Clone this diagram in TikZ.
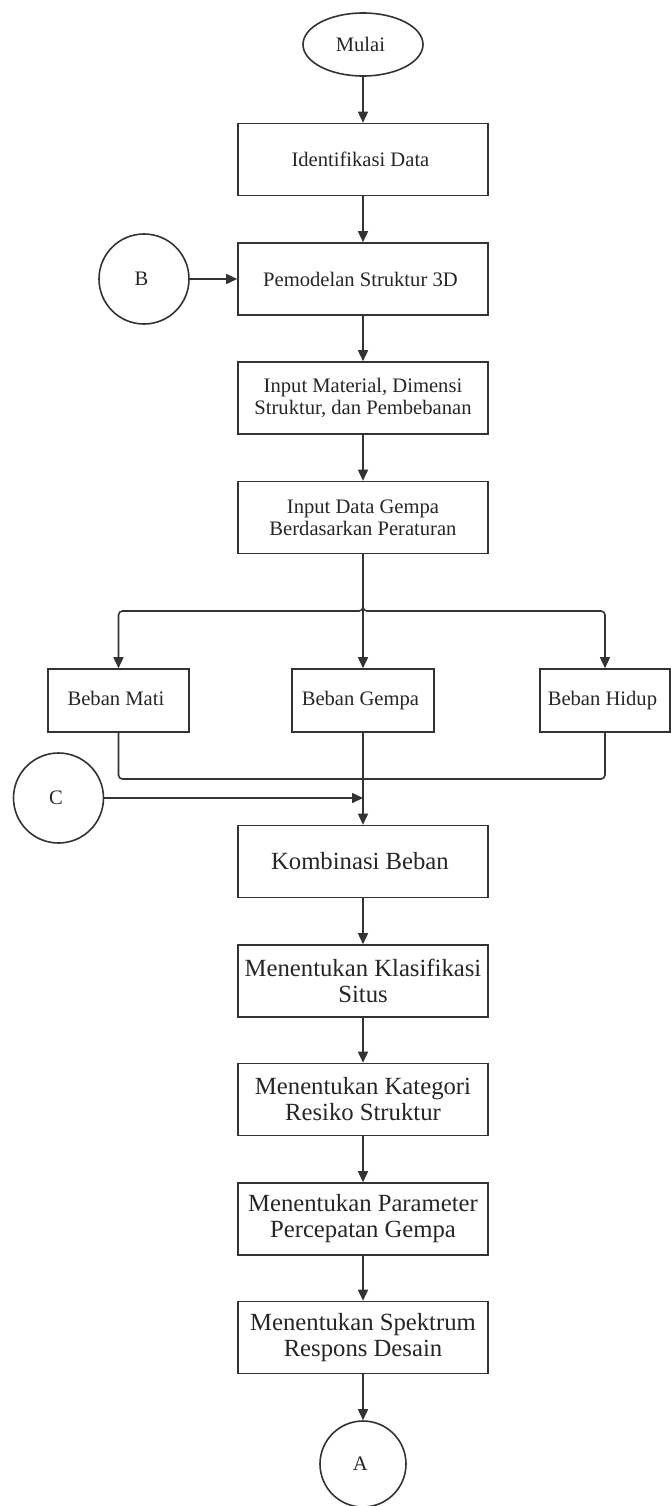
\documentclass[tikz,border=0pt]{standalone}
\usepackage{fontspec}
\setmainfont{Liberation Serif}
\usetikzlibrary{arrows.meta,positioning,shapes.geometric}
\definecolor{linegray}{HTML}{333333}

\begin{document}
\begin{tikzpicture}[x=1pt, y=1pt,
every node/.style={
    rectangle,
    draw=linegray,
    line width=1.6pt,
    text=black!85,
    align=center,
    inner sep=2pt
},
stepbox/.style={minimum width=250pt, minimum height=72pt, font=\fontsize{20.6}{22}\selectfont},
bigbox/.style={minimum width=250pt, minimum height=72pt, font=\fontsize{24.7}{26}\selectfont},
loadbox/.style={minimum height=63pt, text height=14pt, text depth=4.5pt, font=\fontsize{20.6}{22}\selectfont},
connector/.style={circle, minimum size=90pt, font=\fontsize{20.6}{22}\selectfont},
flow/.style={linegray, line width=1.6pt, -{Triangle[length=11pt, width=10pt]}},
link/.style={linegray, line width=1.6pt, rounded corners=4pt}
]
    \useasboundingbox (0,0) rectangle (670,-1506);

    %start
    \node (mulai) [ellipse, minimum width=120pt, minimum height=63pt,
        font=\fontsize{20.6}{22}\selectfont, shift={(363, -44.5)}]
    {
        Mulai
    };
    \node (identifikasi_data) [stepbox, shift={(363, -159.5)}]
    {
        Identifikasi Data
    };
    \node (b) [connector, shift={(144, -279)}]
    {
        B
    };
    \node (pemodelan_struktur) [stepbox, shift={(363, -279)}]
    {
        Pemodelan Struktur 3D
    };

    %input
    \node (input_material) [stepbox, shift={(363, -398)}]
    {
        Input Material, Dimensi\\Struktur, dan Pembebanan
    };
    \node (input_gempa) [stepbox, shift={(363, -517.5)}]
    {
        Input Data Gempa\\Berdasarkan Peraturan
    };

    %beban
    \node (beban_mati) [loadbox, minimum width=141pt, shift={(118.5, -700.5)}]
    {
        Beban Mati
    };
    \node (beban_gempa) [loadbox, minimum width=142pt, shift={(363, -700.5)}]
    {
        Beban Gempa
    };
    \node (beban_hidup) [loadbox, minimum width=130pt, shift={(605, -700.5)}]
    {
        Beban Hidup
    };
    \node (c) [connector, shift={(58.5, -798)}]
    {
        C
    };
    \coordinate (split) at (363, -611);
    \coordinate (merge) at (363, -779);
    \coordinate (c_join) at (363, -798);

    %analisis
    \node (kombinasi_beban) [bigbox, shift={(363, -861.5)}]
    {
        Kombinasi Beban
    };
    \node (klasifikasi_situs) [bigbox, shift={(363, -981)}]
    {
        Menentukan Klasifikasi\\Situs
    };
    \node (kategori_resiko) [bigbox, shift={(363, -1099.5)}]
    {
        Menentukan Kategori\\Resiko Struktur
    };
    \node (parameter_percepatan) [bigbox, shift={(363, -1219)}]
    {
        Menentukan Parameter\\Percepatan Gempa
    };
    \node (spektrum_respons) [bigbox, shift={(363, -1337.5)}]
    {
        Menentukan Spektrum\\Respons Desain
    };
    \node (a) [connector, minimum size=86pt, shift={(363, -1464)}]
    {
        A
    };

    %start
    \draw[flow] (mulai) to (identifikasi_data);
    \draw[flow] (identifikasi_data) to (pemodelan_struktur);
    \draw[flow] (b) to (pemodelan_struktur);

    %input
    \draw[flow] (pemodelan_struktur) to (input_material);
    \draw[flow] (input_material) to (input_gempa);

    %beban
    \draw[flow, rounded corners=4pt] (input_gempa.south) -- (split) -| (beban_mati.north);
    \draw[flow, rounded corners=4pt] (input_gempa.south) -- (split) -| (beban_hidup.north);
    \draw[flow] (input_gempa) to (beban_gempa);

    \draw[link] (beban_mati.south) |- (merge);
    \draw[link] (beban_hidup.south) |- (merge);
    \draw[flow] (beban_gempa) to (kombinasi_beban);
    \draw[flow] (c) to (c_join);

    %analisis
    \draw[flow] (kombinasi_beban) to (klasifikasi_situs);
    \draw[flow] (klasifikasi_situs) to (kategori_resiko);
    \draw[flow] (kategori_resiko) to (parameter_percepatan);
    \draw[flow] (parameter_percepatan) to (spektrum_respons);
    \draw[flow] (spektrum_respons) to (a);

\end{tikzpicture}
\end{document}
